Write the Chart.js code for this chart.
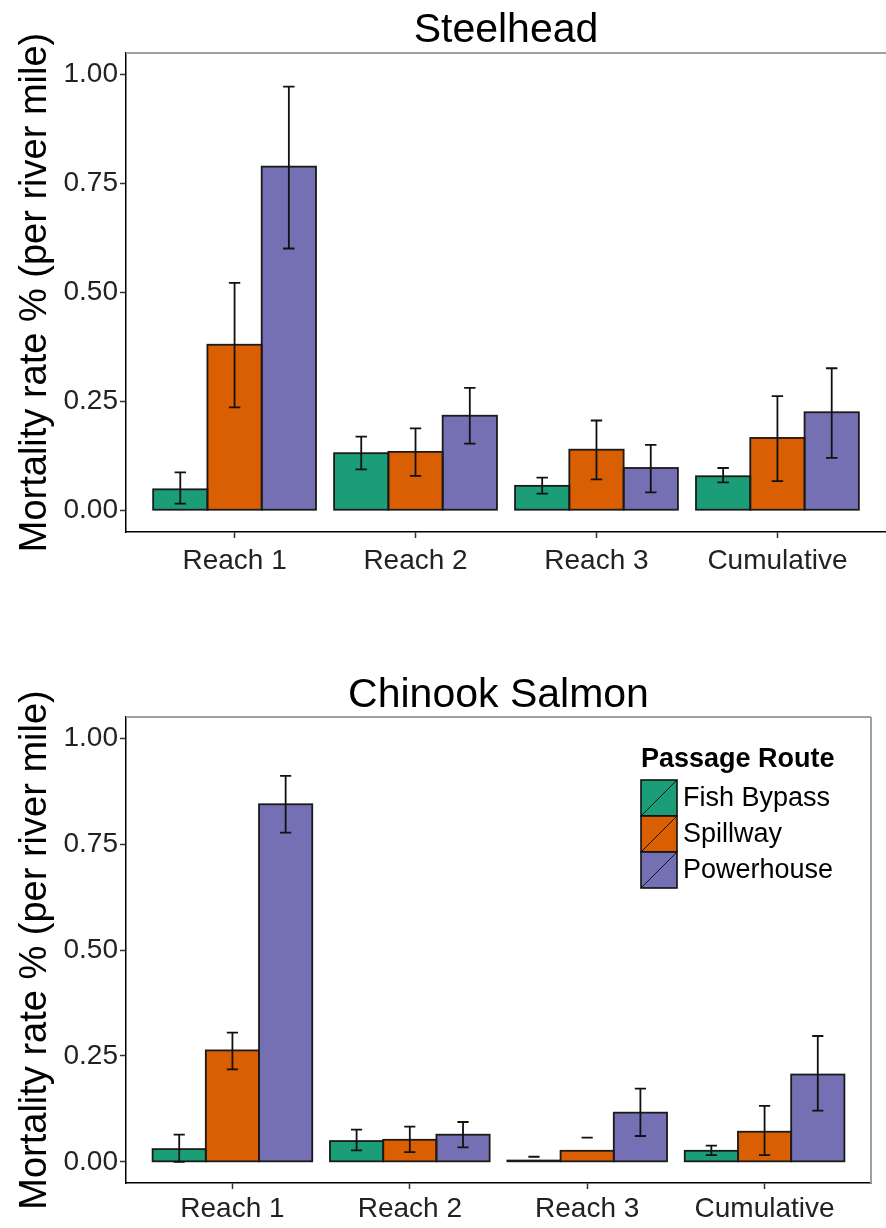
<!DOCTYPE html>
<html>
<head>
<meta charset="utf-8">
<script src="https://cdn.jsdelivr.net/npm/chart.js@4.4.1/dist/chart.umd.min.js"></script>
<style>
  html, body { margin: 0; padding: 0; background: #fff; overflow: hidden; }
  #panelTop { position: absolute; left: 0; top: 0; width: 886px; height: 600px; }
  #panelBottom { position: absolute; left: 0; top: 600px; width: 886px; height: 628px; }
</style>
</head>
<body>
<div id="panelTop"><canvas id="steelheadChart"></canvas></div>
<div id="panelBottom"><canvas id="chinookChart"></canvas></div>
<script>
// Reaches along the river and the three dam passage routes
const categories = ['Reach 1', 'Reach 2', 'Reach 3', 'Cumulative'];
const routes = ['Fish Bypass', 'Spillway', 'Powerhouse'];
const routeColors = ['#1B9E77', '#D95F02', '#7570B3'];
const yTicks = [0, 0.25, 0.5, 0.75, 1.0];
const yTitle = 'Mortality rate % (per river mile)';

// Steelhead mortality rate (% per river mile) with lower/upper interval bounds
const steelheadFishBypass = [0.048, 0.131, 0.056, 0.078];
const steelheadSpillway = [0.380, 0.134, 0.139, 0.166];
const steelheadPowerhouse = [0.789, 0.217, 0.097, 0.225];
const steelheadFishBypassCI = [[0.015, 0.087], [0.094, 0.169], [0.038, 0.075], [0.064, 0.097]];
const steelheadSpillwayCI = [[0.236, 0.522], [0.079, 0.188], [0.071, 0.206], [0.067, 0.262]];
const steelheadPowerhouseCI = [[0.601, 0.973], [0.153, 0.281], [0.041, 0.150], [0.120, 0.326]];

// Chinook salmon mortality rate (% per river mile) with lower/upper interval bounds
const chinookFishBypass = [0.030, 0.049, 0.003, 0.026];
const chinookSpillway = [0.263, 0.052, 0.026, 0.071];
const chinookPowerhouse = [0.844, 0.064, 0.116, 0.206];
const chinookFishBypassCI = [[0.000, 0.064], [0.027, 0.076], [0.012, 0.012], [0.016, 0.038]];
const chinookSpillwayCI = [[0.218, 0.305], [0.023, 0.083], [0.057, 0.057], [0.016, 0.132]];
const chinookPowerhouseCI = [[0.777, 0.911], [0.034, 0.094], [0.061, 0.173], [0.121, 0.297]];

const FONT = "'Liberation Sans', Arial, Helvetica, sans-serif";
Chart.defaults.font.family = FONT;

// Outline every bar with a stroke centred on its edges (keeps near-zero bars visible)
const barOutlines = {
  id: 'barOutlines',
  afterDatasetsDraw(chart) {
    const ctx = chart.ctx;
    ctx.save();
    ctx.strokeStyle = '#1a1a1a';
    ctx.lineWidth = 1.8;
    chart.data.datasets.forEach((ds, di) => {
      chart.getDatasetMeta(di).data.forEach(bar => {
        const left = bar.x - bar.width / 2;
        const top = Math.min(bar.y, bar.base);
        const h = Math.abs(bar.base - bar.y);
        ctx.strokeRect(left, top, bar.width, h);
      });
    });
    ctx.restore();
  }
};

// Vertical error bars centred on each bar
const errorBars = {
  id: 'errorBars',
  afterDatasetsDraw(chart) {
    const ctx = chart.ctx;
    const y = chart.scales.y;
    chart.data.datasets.forEach((ds, di) => {
      const meta = chart.getDatasetMeta(di);
      meta.data.forEach((bar, i) => {
        const [lo, hi] = ds.intervals[i];
        const yl = y.getPixelForValue(lo);
        const yh = y.getPixelForValue(hi);
        const half = bar.width * 0.105;
        ctx.save();
        ctx.strokeStyle = '#111';
        ctx.lineWidth = 1.8;
        ctx.beginPath();
        ctx.moveTo(bar.x, yl); ctx.lineTo(bar.x, yh);
        ctx.moveTo(bar.x - half, yh); ctx.lineTo(bar.x + half, yh);
        ctx.moveTo(bar.x - half, yl); ctx.lineTo(bar.x + half, yl);
        ctx.stroke();
        ctx.restore();
      });
    });
  }
};

// Panel title centred over the plotting area, plus the grey panel frame
const panelDecor = {
  id: 'panelDecor',
  beforeDatasetsDraw(chart, args, o) {
    const { ctx, chartArea: a } = chart;
    ctx.save();
    ctx.strokeStyle = '#a0a0a0';
    ctx.lineWidth = 2;
    ctx.beginPath();
    ctx.moveTo(a.left, a.top); ctx.lineTo(a.right, a.top);
    if (o.rightEdge) { ctx.moveTo(a.right, a.top); ctx.lineTo(a.right, a.bottom); }
    ctx.stroke();
    ctx.restore();
  },
  afterDraw(chart, args, o) {
    const { ctx, chartArea: a } = chart;
    ctx.save();
    ctx.font = '41px ' + FONT;
    ctx.fillStyle = '#000';
    ctx.textAlign = 'center';
    ctx.textBaseline = 'middle';
    ctx.fillText(o.text, (a.left + a.right) / 2, o.titleY);
    ctx.restore();
  }
};

// "Passage Route" key drawn inside the plotting area
const routeKey = {
  id: 'routeKey',
  afterDraw(chart, args, o) {
    if (!o.show) return;
    const ctx = chart.ctx;
    const size = 36;
    ctx.save();
    ctx.fillStyle = '#000';
    ctx.textAlign = 'left';
    ctx.textBaseline = 'middle';
    ctx.font = 'bold 27px ' + FONT;
    ctx.fillText(o.title, o.x, o.y);
    ctx.font = '27px ' + FONT;
    chart.data.datasets.forEach((ds, i) => {
      const top = o.y + 20 + i * size;
      ctx.fillStyle = ds.backgroundColor;
      ctx.fillRect(o.x, top, size, size);
      ctx.strokeStyle = '#111';
      ctx.lineWidth = 1.6;
      ctx.strokeRect(o.x, top, size, size);
      ctx.lineWidth = 1;
      ctx.beginPath();
      ctx.moveTo(o.x, top + size); ctx.lineTo(o.x + size, top);
      ctx.stroke();
      ctx.fillStyle = '#000';
      ctx.fillText(ds.label, o.x + size + 6, top + size / 2 + 1);
    });
    ctx.restore();
  }
};

function buildChart(canvasId, title, values, intervals, layout) {
  const datasets = routes.map((r, k) => ({
    label: r,
    data: categories.map((c, i) => ({ x: i, y: values[k][i] })),
    intervals: intervals[k],
    backgroundColor: routeColors[k],
    borderWidth: 0,
    categoryPercentage: 0.9,
    barPercentage: 1.0
  }));
  return new Chart(document.getElementById(canvasId), {
    type: 'bar',
    data: { datasets },
    plugins: [panelDecor, barOutlines, errorBars, routeKey],
    options: {
      responsive: true,
      maintainAspectRatio: false,
      animation: false,
      layout: { padding: { top: layout.padTop, right: layout.padRight, left: 0, bottom: 0 } },
      plugins: {
        legend: { display: false },
        tooltip: { enabled: false },
        panelDecor: { text: title, titleY: layout.titleY, rightEdge: layout.rightEdge },
        routeKey: { show: layout.key, title: 'Passage Route', x: 641, y: 160 }
      },
      scales: {
        x: {
          type: 'linear',
          min: -0.6,
          max: 3.6,
          offset: false,
          afterBuildTicks: s => { s.ticks = categories.map((c, i) => ({ value: i })); },
          afterFit: s => { s.height = layout.xHeight; },
          ticks: {
            callback: v => categories[v],
            font: { size: 28 },
            color: '#222',
            padding: layout.xPad,
            maxRotation: 0,
            autoSkip: false
          },
          grid: { drawOnChartArea: false, offset: false, tickLength: 6, tickWidth: 1.5, tickColor: '#333' },
          border: { color: '#000', width: 1.5 }
        },
        y: {
          min: -0.05,
          max: 1.05,
          afterBuildTicks: s => { s.ticks = yTicks.map(v => ({ value: v })); },
          afterFit: s => { s.width = 126; },
          ticks: { callback: v => v.toFixed(2), font: { size: 28 }, color: '#222', padding: 2 },
          grid: { drawOnChartArea: false, tickLength: 6, tickWidth: 1.5, tickColor: '#333' },
          border: { color: '#000', width: 1.5 },
          title: { display: true, text: yTitle, font: { size: 38 }, color: '#000', padding: { top: 13, bottom: 0 } }
        }
      }
    }
  });
}

buildChart('steelheadChart', 'Steelhead',
  [steelheadFishBypass, steelheadSpillway, steelheadPowerhouse],
  [steelheadFishBypassCI, steelheadSpillwayCI, steelheadPowerhouseCI],
  { padTop: 53, padRight: 0, xHeight: 68, xPad: 6, titleY: 31, rightEdge: false, key: false });

buildChart('chinookChart', 'Chinook Salmon',
  [chinookFishBypass, chinookSpillway, chinookPowerhouse],
  [chinookFishBypassCI, chinookSpillwayCI, chinookPowerhouseCI],
  { padTop: 117, padRight: 15, xHeight: 45, xPad: 3, titleY: 96, rightEdge: true, key: true });
</script>
</body>
</html>
